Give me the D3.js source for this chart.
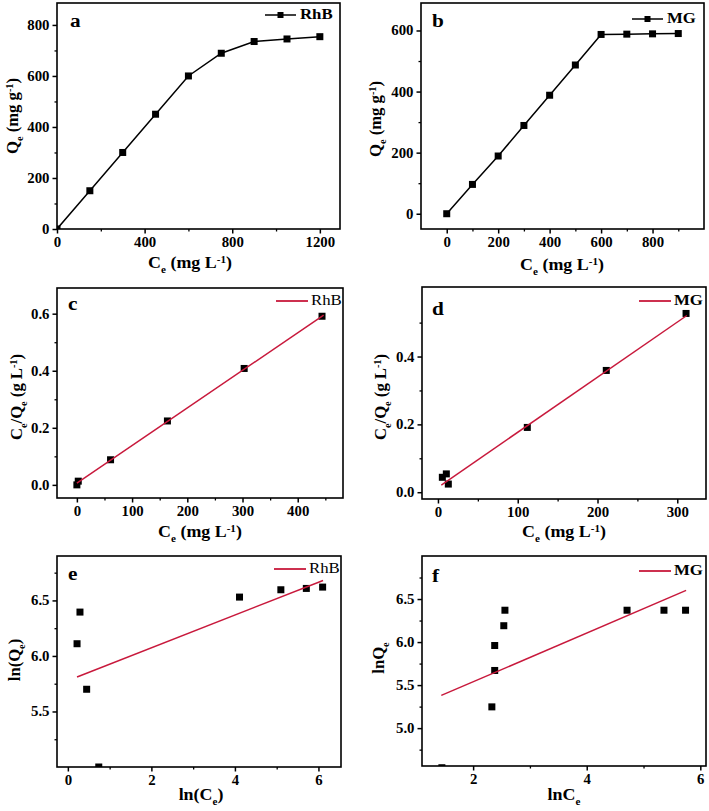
<!DOCTYPE html>
<html><head><meta charset="utf-8">
<script src="https://cdn.jsdelivr.net/npm/d3@7"></script>
<style>
body{margin:0;background:#fff}
svg text{font-family:"Liberation Serif","Times New Roman",serif;font-weight:bold;fill:#000}
</style></head><body>
<svg id="chart" width="709" height="811"></svg>
<script>
// ---------- data ----------
const aX=[0,150,300,450,600,750,900,1050,1200];
const aY=[0,150,300,450,600,689,735,745,754];
const bX=[0,100,200,300,400,500,600,700,800,900];
const bY=[0,96,189,289,388,487,587,588,589,590];
const cX=[0,2.5,61,164,303,444];
const cY=[0.0,0.013,0.088,0.224,0.408,0.591];
const cFitX=[0,447]; const cFitY=[0.006,0.595];
const dX=[5.5,10.5,13,112,211,311];
const dY=[0.044,0.054,0.024,0.191,0.359,0.527];
const dFitX=[4.2,312]; const dFitY=[0.021,0.521];
const eX=[0.22,0.29,0.45,0.74,4.11,5.10,5.71,6.10];
const eY=[6.11,6.395,5.70,5.0,6.53,6.596,6.608,6.62];
const eFitX=[0.22,6.11]; const eFitY=[5.81,6.68];
const fX=[1.45,2.33,2.38,2.38,2.54,2.56,4.71,5.36,5.74];
const fY=[4.54,5.247,5.67,5.96,6.19,6.37,6.37,6.37,6.37];
const fFitX=[1.44,5.75]; const fFitY=[5.38,6.60];

const aXTicks=[0,400,800,1200], aYTicks=[0,200,400,600,800];
const bXTicks=[0,200,400,600,800], bYTicks=[0,200,400,600];
const cXTicks=[0,100,200,300,400], cYTicks=[0.0,0.2,0.4,0.6];
const dXTicks=[0,100,200,300], dYTicks=[0.0,0.2,0.4];
const eXTicks=[0,2,4,6], eYTicks=[5.5,6.0,6.5];
const fXTicks=[2,4,6], fYTicks=[5.0,5.5,6.0,6.5];

const svg=d3.select("#chart");
const RED="#c8193c";
const SX=1.12;

function stretch(sel,s){
  sel.each(function(){
    const x=+this.getAttribute("x")||0;
    this.setAttribute("transform",`matrix(${s},0,0,1,${x*(1-s)},0)`);
  });
}

function richText(g, parts, size){
  const t=g.append("text").attr("font-size",size);
  parts.forEach(([s,k],i)=>{
    const prev = i>0 ? parts[i-1][1] : "n";
    let dy=0;
    const off = size*0.3;
    if(prev==="sub") dy-=off; if(prev==="sup") dy+=off*1.1;
    if(k==="sub") dy+=off; if(k==="sup") dy-=off*1.1;
    const ts=t.append("tspan").text(s);
    if(dy) ts.attr("dy",dy);
    if(k!=="n") ts.attr("font-size",size*0.62);
  });
  return t;
}

function panel(p){
  const g=svg.append("g");
  const x=d3.scaleLinear().domain(p.xd).range([p.L,p.R]);
  const y=d3.scaleLinear().domain(p.yd).range([p.B,p.T]);
  const id="clip"+p.letter;
  svg.append("clipPath").attr("id",id).append("rect")
    .attr("x",p.L).attr("y",p.T).attr("width",p.R-p.L).attr("height",p.B-p.T);

  const minorFmt=()=> "";
  g.append("g").attr("transform",`translate(0,${p.B})`)
    .call(d3.axisBottom(x).tickValues(p.xMinor).tickSize(2.5).tickFormat(minorFmt))
    .call(s=>{s.select(".domain").remove();s.selectAll("line").attr("stroke-width",1.3);});
  g.append("g").attr("transform",`translate(${p.L},0)`)
    .call(d3.axisLeft(y).tickValues(p.yMinor).tickSize(2.5).tickFormat(minorFmt))
    .call(s=>{s.select(".domain").remove();s.selectAll("line").attr("stroke-width",1.3);});
  g.append("g").attr("transform",`translate(0,${p.B})`)
    .call(d3.axisBottom(x).tickValues(p.xTicks).tickSize(4.5).tickPadding(4).tickFormat(p.xFmt))
    .call(s=>{s.select(".domain").remove();s.selectAll("line").attr("stroke-width",1.5);
      s.selectAll("text").attr("font-size",14).attr("fill","#000");stretch(s.selectAll("text"),1.06);});
  g.append("g").attr("transform",`translate(${p.L},0)`)
    .call(d3.axisLeft(y).tickValues(p.yTicks).tickSize(4.5).tickPadding(3).tickFormat(p.yFmt))
    .call(s=>{s.select(".domain").remove();s.selectAll("line").attr("stroke-width",1.5);
      s.selectAll("text").attr("font-size",14).attr("fill","#000");stretch(s.selectAll("text"),1.06);});
  g.selectAll("g[font-family]").attr("font-family",null);
  g.append("rect").attr("x",p.L).attr("y",p.T).attr("width",p.R-p.L).attr("height",p.B-p.T)
    .attr("fill","none").attr("stroke","#000").attr("stroke-width",1.6);

  const data=p.xs.map((v,i)=>[v,p.ys[i]]);
  const plot=g.append("g").attr("clip-path",`url(#${id})`);
  const ms=7;
  const ln=d3.line().x(d=>x(d[0])).y(d=>y(d[1]));
  if(p.kind==="line"){
    plot.append("path").datum(data).attr("fill","none").attr("stroke","#000").attr("stroke-width",1.5).attr("d",ln);
  }
  plot.selectAll("rect.m").data(data).join("rect").attr("class","m")
    .attr("x",d=>x(d[0])-ms/2).attr("y",d=>y(d[1])-ms/2).attr("width",ms).attr("height",ms).attr("fill","#000");
  if(p.kind!=="line"){
    const fit=p.fx.map((v,i)=>[v,p.fy[i]]);
    plot.append("path").datum(fit).attr("fill","none").attr("stroke",RED).attr("stroke-width",1.5).attr("d",ln);
  }

  const lt=g.append("text").attr("x",p.L+p.letterDx).attr("y",p.T+p.letterDy).attr("font-size",19).text(p.letter);
  stretch(lt,SX);

  const lx=p.R-p.legDx, ly=p.T+p.legDy;
  if(p.kind==="line"){
    g.append("line").attr("x1",lx).attr("x2",lx+31).attr("y1",ly).attr("y2",ly).attr("stroke","#000").attr("stroke-width",1.5);
    g.append("rect").attr("x",lx+15.5-3).attr("y",ly-3).attr("width",6).attr("height",6).attr("fill","#000");
  } else {
    g.append("line").attr("x1",lx).attr("x2",lx+32).attr("y1",ly).attr("y2",ly).attr("stroke",RED).attr("stroke-width",1.8);
  }
  const lg=g.append("text").attr("x",lx+35).attr("y",ly+4.5).attr("font-size",15)
    .style("font-weight",p.legW).text(p.name);
  stretch(lg,SX);

  const xt=richText(g,p.xTitle,16).attr("text-anchor","middle").attr("x",p.xtX).attr("y",p.xtY);
  stretch(xt,SX);
  richText(g,p.yTitle,16).attr("text-anchor","middle")
    .attr("transform",`translate(${p.ytX},${p.ytY}) rotate(-90) scale(1.04,1)`);
}

const ceTitle=[["C","n"],["e","sub"],[" (mg L","n"],["-1","sup"],[")","n"]];
const f0=d3.format("d"), f1=d3.format(".1f");

panel({letter:"a",name:"RhB",kind:"line",xs:aX,ys:aY,L:57,R:340,T:3,B:229,
  xd:[0,1292],yd:[0,886],xTicks:aXTicks,yTicks:aYTicks,xMinor:[200,600,1000],yMinor:[100,300,500,700],
  xFmt:f0,yFmt:f0,letterDx:13,letterDy:24,legDx:75,legDy:12,legW:"bold",
  xTitle:ceTitle,xtX:190,xtY:268,
  yTitle:[["Q","n"],["e","sub"],[" (mg g","n"],["-1","sup"],[")","n"]],ytX:18,ytY:116});
panel({letter:"b",name:"MG",kind:"line",xs:bX,ys:bY,L:421,R:704,T:3,B:229,
  xd:[-100,1000],yd:[-50,690],xTicks:bXTicks,yTicks:bYTicks,xMinor:[100,300,500,700,900],yMinor:[100,300,500],
  xFmt:f0,yFmt:f0,letterDx:11,letterDy:24,legDx:72,legDy:16,legW:"bold",
  xTitle:ceTitle,xtX:562,xtY:270,
  yTitle:[["Q","n"],["e","sub"],[" (mg g","n"],["-1","sup"],[")","n"]],ytX:381,ytY:119});
panel({letter:"c",name:"RhB",kind:"fit",xs:cX,ys:cY,fx:cFitX,fy:cFitY,L:57,R:343,T:288,B:498,
  xd:[-36,482],yd:[-0.046,0.69],xTicks:cXTicks,yTicks:cYTicks,xMinor:[50,150,250,350,450],yMinor:[0.1,0.3,0.5],
  xFmt:f0,yFmt:f1,letterDx:11,letterDy:22,legDx:67,legDy:13,legW:"normal",
  xTitle:ceTitle,xtX:200,xtY:537,
  yTitle:[["C","n"],["e","sub"],["/Q","n"],["e","sub"],[" (g L","n"],["-1","sup"],[")","n"]],ytX:22,ytY:397});
panel({letter:"d",name:"MG",kind:"fit",xs:dX,ys:dY,fx:dFitX,fy:dFitY,L:422,R:706,T:287,B:499,
  xd:[-20,336],yd:[-0.02,0.605],xTicks:dXTicks,yTicks:dYTicks,xMinor:[50,150,250],yMinor:[0.1,0.3,0.5],
  xFmt:f0,yFmt:f1,letterDx:10,letterDy:28,legDx:67,legDy:14,legW:"bold",
  xTitle:ceTitle,xtX:564,xtY:537,
  yTitle:[["C","n"],["e","sub"],["/Q","n"],["e","sub"],[" (g L","n"],["-1","sup"],[")","n"]],ytX:386,ytY:397});
panel({letter:"e",name:"RhB",kind:"fit",xs:eX,ys:eY,fx:eFitX,fy:eFitY,L:57,R:341,T:556,B:767,
  xd:[-0.26,6.54],yd:[5.0,6.9],xTicks:eXTicks,yTicks:eYTicks,xMinor:[1,3,5],yMinor:[5.25,5.75,6.25,6.75],
  xFmt:f0,yFmt:f1,letterDx:11,letterDy:24,legDx:67,legDy:13,legW:"normal",
  xTitle:[["ln(C","n"],["e","sub"],[")","n"]],xtX:201,xtY:800,
  yTitle:[["ln(Q","n"],["e","sub"],[")","n"]],ytX:20,ytY:660});
panel({letter:"f",name:"MG",kind:"fit",xs:fX,ys:fY,fx:fFitX,fy:fFitY,L:422,R:706,T:556,B:766,
  xd:[1.1,6.1],yd:[4.56,7.0],xTicks:fXTicks,yTicks:fYTicks,xMinor:[3,5],yMinor:[4.75,5.25,5.75,6.25,6.75],
  xFmt:f0,yFmt:f1,letterDx:10,letterDy:26,legDx:67,legDy:15,legW:"bold",
  xTitle:[["lnC","n"],["e","sub"]],xtX:564,xtY:800,
  yTitle:[["lnQ","n"],["e","sub"]],ytX:384,ytY:658});
</script>
</body></html>
